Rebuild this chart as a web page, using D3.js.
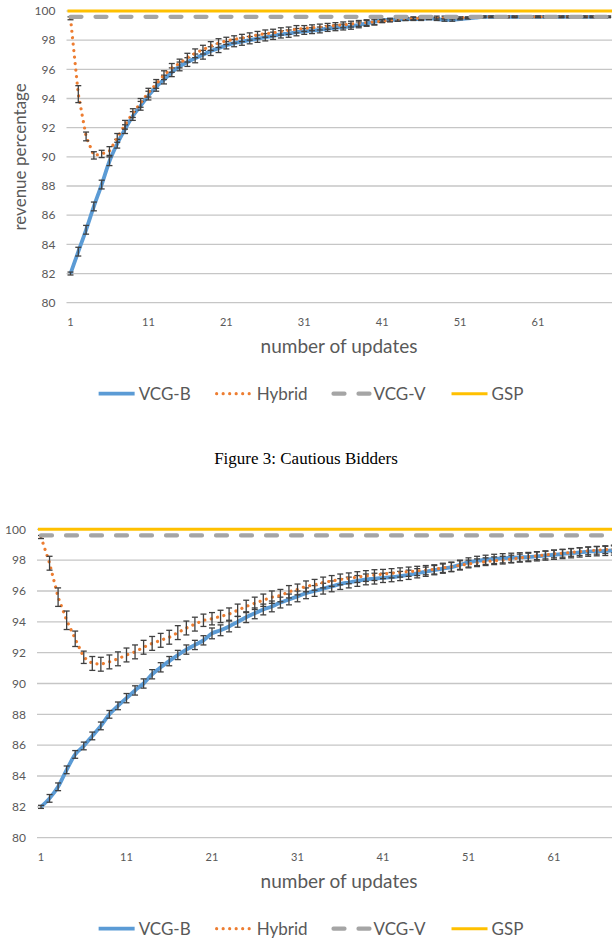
<!DOCTYPE html>
<html>
<head>
<meta charset="utf-8">
<script src="https://cdn.jsdelivr.net/npm/d3@7"></script>
<style>
  body { margin: 0; background: #fff; }
  svg { display: block; }
</style>
</head>
<body>
<svg width="612" height="941"></svg>
<script>
// ---- data ----
const seriesNames = ["VCG-B", "Hybrid", "VCG-V", "GSP"];
const yTicks = [80, 82, 84, 86, 88, 90, 92, 94, 96, 98, 100];
const xTicks = [1, 11, 21, 31, 41, 51, 61];
const gspValue = 100;
const vcgvValue = 99.6;

// Figure 3: cautious bidders
const cautiousVcgB = [
  82.0, 83.5, 85.0, 86.6, 88.1, 89.7, 90.9, 91.9, 92.8, 93.5,
  94.2, 94.8, 95.3, 95.8, 96.2, 96.5, 96.75, 97.0, 97.25, 97.45,
  97.65, 97.8, 97.9, 98.0, 98.1, 98.2, 98.3, 98.4, 98.45, 98.55,
  98.6, 98.65, 98.7, 98.8, 98.85, 98.9, 98.95, 99.05, 99.15, 99.25,
  99.35, 99.4, 99.4, 99.45, 99.45, 99.45, 99.5, 99.45, 99.4, 99.4,
  99.45, 99.5, 99.55, 99.6, 99.6, 99.6, 99.6, 99.6, 99.6, 99.6,
  99.6, 99.6, 99.6, 99.6, 99.6, 99.6, 99.6, 99.6, 99.6, 99.6
];
const cautiousVcgBErr = [
  0.1, 0.3, 0.3, 0.3, 0.3, 0.3, 0.3, 0.3, 0.3, 0.3,
  0.3, 0.3, 0.3, 0.3, 0.3, 0.3, 0.3, 0.3, 0.3, 0.3,
  0.25, 0.25, 0.25, 0.25, 0.25, 0.25, 0.25, 0.25, 0.25, 0.25,
  0.2, 0.2, 0.2, 0.2, 0.2, 0.2, 0.2, 0.2, 0.2, 0.2,
  0.1, 0.1, 0.1, 0.1, 0.1, 0.1, 0.1, 0.1, 0.1, 0.1,
  0.05, 0.05, 0.05, 0.05, 0.05, 0.05, 0.05, 0.05, 0.05, 0.05,
  0.05, 0.05, 0.05, 0.05, 0.05, 0.05, 0.05, 0.05, 0.05, 0.05
];
const cautiousHybrid = [
  99.5, 94.3, 91.4, 90.1, 90.2, 90.4, 91.3, 92.2, 93.0, 93.7,
  94.4, 95.0, 95.6, 96.1, 96.4, 96.8, 97.1, 97.35, 97.6, 97.8,
  97.95, 98.05, 98.15, 98.25, 98.35, 98.45, 98.5, 98.6, 98.65, 98.75,
  98.8, 98.85, 98.9, 98.95, 99.0, 99.05, 99.1, 99.15, 99.2, 99.25,
  99.3, 99.35, 99.4, 99.45, 99.5, 99.5, 99.55, 99.55, 99.55, 99.55,
  99.55, 99.55, 99.6, 99.6, 99.6, 99.6, 99.6, 99.6, 99.6, 99.6,
  99.6, 99.6, 99.6, 99.6, 99.6, 99.6, 99.6, 99.6, 99.6, 99.6
];
const cautiousHybridErr = [
  0.1, 0.58, 0.3, 0.25, 0.25, 0.3, 0.3, 0.3, 0.3, 0.3,
  0.3, 0.3, 0.3, 0.3, 0.3, 0.3, 0.3, 0.3, 0.3, 0.3,
  0.25, 0.25, 0.25, 0.25, 0.25, 0.25, 0.25, 0.25, 0.25, 0.25,
  0.2, 0.2, 0.2, 0.2, 0.2, 0.2, 0.2, 0.2, 0.2, 0.2,
  0.1, 0.1, 0.1, 0.1, 0.1, 0.1, 0.1, 0.1, 0.1, 0.1,
  0.05, 0.05, 0.05, 0.05, 0.05, 0.05, 0.05, 0.05, 0.05, 0.05,
  0.05, 0.05, 0.05, 0.05, 0.05, 0.05, 0.05, 0.05, 0.05, 0.05
];

// second figure
const secondVcgB = [
  82.0, 82.55, 83.3, 84.4, 85.4, 85.95, 86.6, 87.25, 88.0, 88.55,
  89.05, 89.55, 90.0, 90.6, 91.05, 91.45, 91.85, 92.2, 92.5, 92.8,
  93.25, 93.45, 93.7, 94.0, 94.3, 94.55, 94.8, 95.0, 95.25, 95.45,
  95.65, 95.85, 96.0, 96.15, 96.3, 96.45, 96.55, 96.65, 96.75, 96.8,
  96.85, 96.9, 96.97, 97.05, 97.15, 97.25, 97.35, 97.45, 97.55, 97.7,
  97.85, 97.95, 98.02, 98.08, 98.12, 98.15, 98.18, 98.2, 98.25, 98.3,
  98.35, 98.4, 98.45, 98.5, 98.55, 98.58, 98.6, 98.63
];
const secondVcgBErr = [
  0.1, 0.25, 0.25, 0.25, 0.25, 0.25, 0.25, 0.25, 0.25, 0.25,
  0.3, 0.3, 0.3, 0.3, 0.3, 0.3, 0.3, 0.3, 0.3, 0.3,
  0.35, 0.35, 0.35, 0.35, 0.35, 0.35, 0.35, 0.35, 0.35, 0.35,
  0.35, 0.35, 0.35, 0.35, 0.35, 0.35, 0.35, 0.35, 0.35, 0.35,
  0.3, 0.3, 0.3, 0.3, 0.3, 0.3, 0.3, 0.3, 0.3, 0.3,
  0.3, 0.3, 0.3, 0.3, 0.3, 0.3, 0.3, 0.3, 0.3, 0.3,
  0.3, 0.3, 0.3, 0.3, 0.3, 0.3, 0.3, 0.3
];
const secondHybrid = [
  99.5, 97.8, 95.6, 94.1, 92.9, 91.7, 91.3, 91.25, 91.4, 91.6,
  91.85, 92.05, 92.35, 92.6, 92.8, 93.0, 93.3, 93.6, 93.85, 94.1,
  94.2, 94.35, 94.5, 94.75, 95.0, 95.2, 95.4, 95.6, 95.7, 95.95,
  96.1, 96.3, 96.4, 96.55, 96.65, 96.75, 96.82, 96.9, 96.97, 97.03,
  97.1, 97.15, 97.2, 97.25, 97.3, 97.35, 97.4, 97.5, 97.57, 97.66,
  97.75, 97.83, 97.9, 97.96, 98.0, 98.07, 98.14, 98.2, 98.28, 98.33,
  98.4, 98.44, 98.5, 98.55, 98.6, 98.64, 98.68, 98.72
];
const secondHybridErr = [
  0.1, 0.45, 0.6, 0.6, 0.5, 0.4, 0.45, 0.45, 0.45, 0.45,
  0.45, 0.45, 0.45, 0.45, 0.45, 0.45, 0.45, 0.45, 0.45, 0.4,
  0.4, 0.4, 0.4, 0.4, 0.4, 0.4, 0.4, 0.4, 0.4, 0.4,
  0.35, 0.35, 0.35, 0.35, 0.35, 0.35, 0.35, 0.35, 0.35, 0.35,
  0.3, 0.3, 0.3, 0.3, 0.3, 0.3, 0.3, 0.3, 0.3, 0.3,
  0.25, 0.25, 0.25, 0.25, 0.25, 0.25, 0.25, 0.25, 0.25, 0.25,
  0.25, 0.25, 0.25, 0.25, 0.25, 0.25, 0.25, 0.25
];

// ---- styles ----
const colors = { vcgb: "#5b9bd5", hybrid: "#ed7d31", vcgv: "#a5a5a5", gsp: "#ffc000" };
const textColor = "#595959";
const gridColor = "#c6c6c6";
const errColor = "#404040";
const uiFont = "Lato, 'Open Sans', sans-serif";

const svg = d3.select("svg");

function drawChart(opt) {
  const g = svg.append("g");
  const x = d3.scaleLinear().domain([1, 61]).range(opt.xRange);
  const y = d3.scaleLinear().domain([80, 100]).range(opt.yRange);
  const left = x(1) - 4;
  const right = 612;

  // gridlines
  g.selectAll(".grid").data(yTicks).join("line")
    .attr("class", "grid")
    .attr("x1", left).attr("x2", right)
    .attr("y1", d => y(d)).attr("y2", d => y(d))
    .attr("stroke", gridColor).attr("stroke-width", 1.3);

  // y tick labels
  g.selectAll(".ylab").data(yTicks).join("text")
    .attr("class", "ylab")
    .attr("x", x(1) - 15).attr("y", d => y(d))
    .attr("dy", "0.35em")
    .attr("text-anchor", "end")
    .attr("font-family", uiFont).attr("font-size", 12)
    .attr("fill", textColor)
    .text(d => d);

  // x tick labels
  g.selectAll(".xlab").data(xTicks).join("text")
    .attr("class", "xlab")
    .attr("x", d => x(d)).attr("y", y(80) + 19)
    .attr("dy", "0.35em")
    .attr("text-anchor", "middle")
    .attr("font-family", uiFont).attr("font-size", 11)
    .attr("fill", textColor)
    .text(d => d);

  // axis titles
  g.append("text")
    .attr("x", 339).attr("y", y(80) + 44)
    .attr("dy", "0.35em")
    .attr("text-anchor", "middle")
    .attr("font-family", uiFont).attr("font-size", 19)
    .attr("fill", textColor)
    .text("number of updates");

  if (opt.yTitle) {
    g.append("text")
      .attr("transform", `translate(20,${(y(80) + y(100)) / 2}) rotate(-90)`)
      .attr("dy", "0.35em")
      .attr("text-anchor", "middle")
      .attr("font-family", uiFont).attr("font-size", 17)
      .attr("fill", textColor)
      .text(opt.yTitle);
  }

  const line = d3.line()
    .x((d, i) => x(i + 1))
    .y(d => y(d));

  function errorBars(values, errs) {
    const eb = g.append("g")
      .attr("stroke", errColor).attr("stroke-width", 1.3);
    values.forEach((v, i) => {
      const cx = x(i + 1);
      const lo = y(v - errs[i]);
      const hi = y(v + errs[i]);
      eb.append("line").attr("x1", cx).attr("x2", cx).attr("y1", lo).attr("y2", hi);
      eb.append("line").attr("x1", cx - 3).attr("x2", cx + 3).attr("y1", lo).attr("y2", lo);
      eb.append("line").attr("x1", cx - 3).attr("x2", cx + 3).attr("y1", hi).attr("y2", hi);
    });
  }

  // VCG-B
  g.append("path")
    .datum(opt.vcgb)
    .attr("d", line.curve(d3.curveMonotoneX))
    .attr("fill", "none")
    .attr("stroke", colors.vcgb)
    .attr("stroke-width", 3.8)
    .attr("stroke-linejoin", "round");
  errorBars(opt.vcgb, opt.vcgbErr);

  // Hybrid
  g.append("path")
    .datum(opt.hybrid)
    .attr("d", line.curve(d3.curveLinear))
    .attr("fill", "none")
    .attr("stroke", colors.hybrid)
    .attr("stroke-width", 3.2)
    .attr("stroke-linecap", "round")
    .attr("stroke-dasharray", "0.01,6.5");
  errorBars(opt.hybrid, opt.hybridErr);

  // VCG-V
  g.append("line")
    .attr("x1", x(1)).attr("x2", right + 10)
    .attr("y1", y(vcgvValue)).attr("y2", y(vcgvValue))
    .attr("stroke", colors.vcgv)
    .attr("stroke-width", 4.2)
    .attr("stroke-linecap", "round")
    .attr("stroke-dasharray", "11,14");

  // GSP
  g.append("line")
    .attr("x1", x(1) - 3).attr("x2", right)
    .attr("y1", y(gspValue)).attr("y2", y(gspValue))
    .attr("stroke", colors.gsp)
    .attr("stroke-width", 3);

  // legend
  const lg = g.append("g").attr("transform", `translate(0,${y(80) + 91})`);
  const items = [
    { name: seriesNames[0], color: colors.vcgb, w: 3.8, dash: null, cap: "butt" },
    { name: seriesNames[1], color: colors.hybrid, w: 3.2, dash: "0.01,6.5", cap: "round" },
    { name: seriesNames[2], color: colors.vcgv, w: 4.2, dash: "11,14", cap: "round" },
    { name: seriesNames[3], color: colors.gsp, w: 3, dash: null, cap: "butt" }
  ];
  let cursor = 0;
  const parts = [];
  items.forEach(it => {
    const sample = lg.append("line")
      .attr("y1", 0).attr("y2", 0)
      .attr("stroke", it.color)
      .attr("stroke-width", it.w)
      .attr("stroke-linecap", it.cap);
    if (it.dash) sample.attr("stroke-dasharray", it.dash);
    const label = lg.append("text")
      .attr("dy", "0.35em")
      .attr("font-family", uiFont).attr("font-size", 17)
      .attr("fill", textColor)
      .text(it.name);
    const tw = label.node().getComputedTextLength();
    parts.push({ sample, label, start: cursor });
    cursor += 40 + 2 + tw + 24;
  });
  const total = cursor - 24;
  const offset = 310 - total / 2;
  parts.forEach(p => {
    const s = offset + p.start;
    p.sample.attr("x1", s + 2).attr("x2", s + 38);
    p.label.attr("x", s + 42);
  });
}

drawChart({
  xRange: [70.5, 538],
  yRange: [302.7, 11],
  yTitle: "revenue percentage",
  vcgb: cautiousVcgB, vcgbErr: cautiousVcgBErr,
  hybrid: cautiousHybrid, hybridErr: cautiousHybridErr
});

svg.append("text")
  .attr("x", 306).attr("y", 458)
  .attr("dy", "0.35em")
  .attr("text-anchor", "middle")
  .attr("font-family", "'Liberation Serif', 'Times New Roman', serif")
  .attr("font-size", 17)
  .attr("fill", "#000")
  .text("Figure 3: Cautious Bidders");

drawChart({
  xRange: [41, 554],
  yRange: [837.7, 529.3],
  yTitle: null,
  vcgb: secondVcgB, vcgbErr: secondVcgBErr,
  hybrid: secondHybrid, hybridErr: secondHybridErr
});
</script>
</body>
</html>
